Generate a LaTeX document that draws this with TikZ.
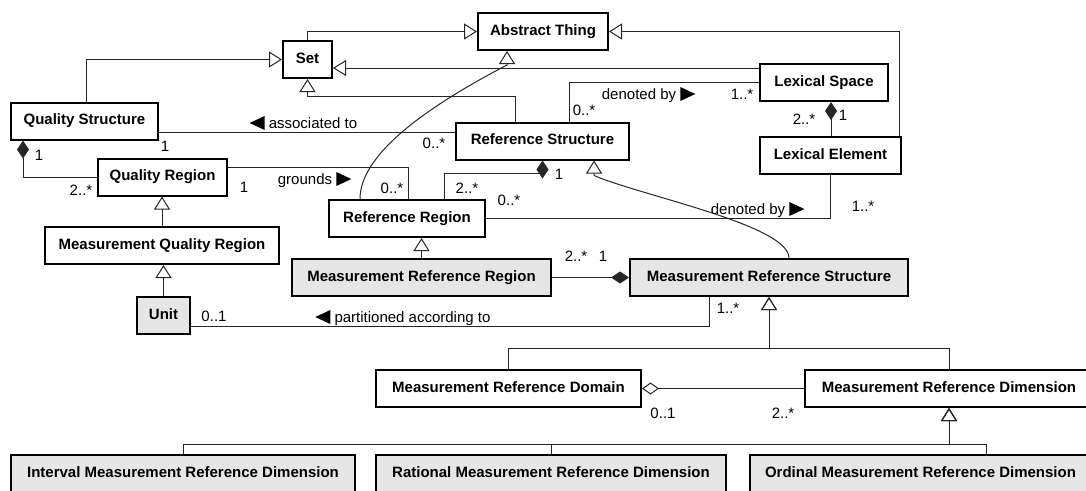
\documentclass[tikz,border=0pt]{standalone}
\usepackage{fontspec}
\setmainfont{Liberation Sans}
\usetikzlibrary{arrows.meta,calc}
\definecolor{clsfill}{RGB}{230,230,230}
\begin{document}
\begin{tikzpicture}[x=1pt,y=-1pt,
  cls/.style={draw=black,line width=2pt,fill=white,inner sep=0pt,minimum height=37pt,
    text height=11pt,text depth=4pt,font=\fontsize{15}{18}\selectfont\bfseries},
  shaded/.style={cls,fill=clsfill},
  conn/.style={draw=black!85,line width=1pt},
  gen/.style={conn,-{Triangle[open,length=13pt,width=16pt]}},
  comp/.style={conn,{Diamond[length=18pt,width=12pt]}-},
  compend/.style={conn,-{Diamond[length=18pt,width=12pt]}},
  agg/.style={conn,{Diamond[open,length=17pt,width=12pt]}-},
  mult/.style={inner sep=0pt,text height=11pt,text depth=0pt,font=\fontsize{15}{18}\selectfont},
  navr/.style={fill=black},
]
\useasboundingbox (0,0) rectangle (1086,490);
\clip (0,0) rectangle (1086,490);

% classes
\node[cls,minimum width=130pt] (at) at (543,31.5) {Abstract Thing};
\node[cls,minimum width=49pt] (set) at (307.5,59.5) {Set};
\node[cls,minimum width=147pt] (qs) at (84.5,121) {Quality Structure};
\node[cls,minimum width=129pt] (qr) at (162.5,177) {Quality Region};
\node[cls,minimum width=234pt] (mqr) at (162,245.5) {Measurement Quality Region};
\node[shaded,minimum width=53pt] (unit) at (163.5,315.5) {Unit};
\node[cls,minimum width=173pt] (rs) at (542.5,141) {Reference Structure};
\node[cls,minimum width=156pt] (rr) at (407,218.5) {Reference Region};
\node[cls,minimum width=128pt] (ls) at (824,82.5) {Lexical Space};
\node[cls,minimum width=141pt] (le) at (830.5,155.5) {Lexical Element};
\node[shaded,minimum width=259pt] (mrr) at (421.5,277.5) {Measurement Reference Region};
\node[shaded,minimum width=278pt] (mrs) at (769,277.5) {Measurement Reference Structure};
\node[cls,minimum width=265pt] (mrdom) at (508.5,388.5) {Measurement Reference Domain};
\node[cls,minimum width=288pt] (mrdim) at (949,388.5) {Measurement Reference Dimension};
\node[shaded,minimum width=344pt] (imrd) at (183,473.5) {Interval Measurement Reference Dimension};
\node[shaded,minimum width=350pt] (rmrd) at (551,473.5) {Rational Measurement Reference Dimension};
\node[shaded,minimum width=341pt] (omrd) at (920.5,473.5) {Ordinal Measurement Reference Dimension};

% generalizations
\draw[gen] (set.north) |- (at.west);
\draw[gen] ([xshift=1.5pt]qs.north) |- (set.west);
\draw[gen] ([yshift=14.5pt]ls.west) coordinate (p3) -- (p3 -| set.east);
\draw[gen] ([xshift=-27.5pt]rs.north) -- ++(0,-25) -| (set.south);
\draw[gen] ([xshift=68.5pt]le.north) |- (at.east);
\draw[gen] ([xshift=-47pt]rr.north) .. controls +(0,-49) and +(-67,35) ..
  ([xshift=-36pt,yshift=-14pt]at.south) -- ([xshift=-36pt]at.south);
\draw[gen] ([xshift=20pt]mrs.north) .. controls +(0,-33) and +(46,20) ..
  ([xshift=51.5pt,yshift=-15pt]rs.south) -- ([xshift=51.5pt]rs.south);
\draw[gen] (mrr.north) -- (mrr.north |- rr.south);
\draw[gen] (mqr.north) -- (mqr.north |- qr.south);
\draw[gen] (unit.north) -- (unit.north |- mqr.south);
\draw[gen] (mrdom.north) -- ++(0,-21) -| (mrs.south);
\draw[gen] (mrdim.north) -- ++(0,-21) -| (mrs.south);
\draw[gen] (imrd.north) -- ++(0,-10) -| (mrdim.south);
\draw[gen] (rmrd.north) -- ++(0,-10) -| (mrdim.south);
\draw[gen] ([xshift=65.5pt]omrd.north) -- ++(0,-10) -| (mrdim.south);

% compositions and aggregation
\draw[comp] ([xshift=-61.5pt]qs.south) |- (qr.west);
\draw[comp] (rs.south) -- ++(0,13) -| ([xshift=37pt]rr.north);
\draw[comp] ([xshift=7pt]ls.south) coordinate (p14) -- (p14 |- le.north);
\draw[compend] (mrr.east) -- (mrs.west);
\draw[agg] (mrdom.east) -- (mrdim.west);

% associations
\draw[conn] ([yshift=-11pt]qs.east) coordinate (p9) -- (p9 -| rs.west);
\draw[conn] ([yshift=10pt]qr.east) -| ([xshift=1pt]rr.north);
\draw[conn] (rr.east) -| (le.south);
\draw[conn] ([xshift=26.5pt]rs.north) |- (ls.west);
\draw[conn] ([yshift=-10.5pt]unit.east) -| ([xshift=-60pt]mrs.south);

% association names with reading direction
\node[mult] (lassoc) at (313,123) {associated to};
\fill[navr] ([xshift=-4pt]lassoc.west) ++(0,-7) -- ++(0,14) -- ++(-15,-7) -- cycle;
\node[mult] (lgrounds) at (305,179) {grounds};
\fill[navr] ([xshift=4pt]lgrounds.east) ++(0,-7) -- ++(0,14) -- ++(15,-7) -- cycle;
\node[mult] (ldenA) at (748,209) {denoted by};
\fill[navr] ([xshift=4pt]ldenA.east) ++(0,-7) -- ++(0,14) -- ++(15,-7) -- cycle;
\node[mult] (ldenB) at (639,94) {denoted by};
\fill[navr] ([xshift=4pt]ldenB.east) ++(0,-7) -- ++(0,14) -- ++(15,-7) -- cycle;
\node[mult] (lpart) at (412.5,317) {partitioned according to};
\fill[navr] ([xshift=-4pt]lpart.west) ++(0,-7) -- ++(0,14) -- ++(-15,-7) -- cycle;

% multiplicities
\node[mult] at (39,155) {1};
\node[mult] at (81,190) {2..*};
\node[mult] at (165,146) {1};
\node[mult] at (434,143) {0..*};
\node[mult] at (244,187) {1};
\node[mult] at (392,188) {0..*};
\node[mult] at (467,188) {2..*};
\node[mult] at (559,174) {1};
\node[mult] at (509,200) {0..*};
\node[mult] at (863,206) {1..*};
\node[mult] at (584,110) {0..*};
\node[mult] at (742,94) {1..*};
\node[mult] at (804,119) {2..*};
\node[mult] at (843,115) {1};
\node[mult] at (576,256) {2..*};
\node[mult] at (603,256) {1};
\node[mult] at (214,316) {0..1};
\node[mult] at (728,308) {1..*};
\node[mult] at (663,413) {0..1};
\node[mult] at (783,413) {2..*};
\end{tikzpicture}
\end{document}
